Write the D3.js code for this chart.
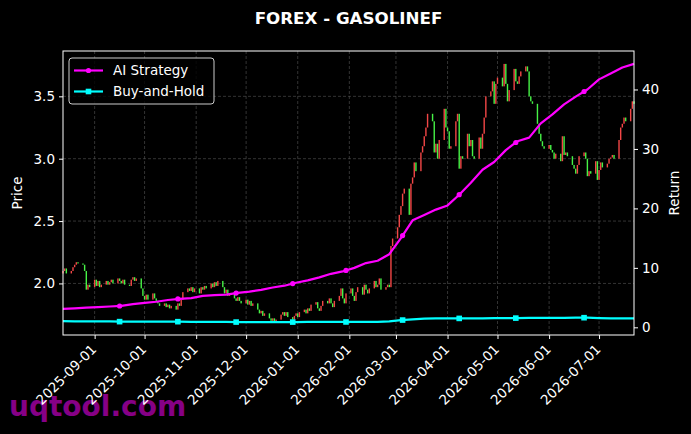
<!DOCTYPE html>
<html>
<head>
<meta charset="utf-8">
<script src="https://cdn.jsdelivr.net/npm/d3@7"></script>
<style>
  body { margin: 0; background: #000; }
  svg { display: block; }
  text { font-family: "DejaVu Sans", sans-serif; }
</style>
</head>
<body>
<svg id="chart"></svg>
<script>
// ---- data ----
const title = "FOREX - GASOLINEF";
const firstDay = "2025-08-13";
const lastDay = "2026-07-22";
const firstOpen = 2.08;

// daily closes (weekdays), one row per week starting on a Wednesday
const closes = [
  2.10, 2.12, 2.08, 2.10, 2.13,
  2.15, 2.17, 2.16, 2.15, 2.10,
  1.95, 1.99, 1.97, 2.03, 1.98,
  2.02, 1.97, 1.99, 2.02, 1.99,
  2.01, 2.03, 2.00, 2.04, 2.02,
  2.00, 2.03, 1.99, 1.98, 2.03,
  2.05, 2.02, 2.04, 1.96, 1.90,
  1.87, 1.91, 1.87, 1.92, 1.88,
  1.86, 1.84, 1.82, 1.84, 1.81,
  1.83, 1.80, 1.82, 1.79, 1.84,
  1.82, 1.87, 1.93, 1.96, 1.94,
  1.97, 1.93, 1.96, 1.92, 1.97,
  1.95, 1.98, 1.96, 2.00, 1.97,
  2.01, 1.98, 2.02, 1.97, 1.92,
  1.95, 1.90, 1.92, 1.88, 1.86,
  1.89, 1.86, 1.84, 1.87, 1.83,
  1.86, 1.82, 1.84, 1.79, 1.76,
  1.78, 1.74, 1.76, 1.72, 1.70,
  1.72, 1.69, 1.71, 1.75, 1.77,
  1.74, 1.77, 1.73, 1.71, 1.74,
  1.76, 1.73, 1.77, 1.79, 1.76,
  1.80, 1.78, 1.83, 1.85, 1.80,
  1.78, 1.82, 1.86, 1.84, 1.88,
  1.84, 1.81, 1.86, 1.90, 1.96,
  1.88, 1.84, 1.92, 1.96, 1.90,
  1.86, 1.93, 1.97, 1.91, 1.99,
  1.95, 1.92, 1.96, 2.02, 1.97,
  1.99, 2.04, 1.95, 1.97, 1.99,
  1.97, 2.30, 2.36, 2.45, 2.55,
  2.62, 2.72, 2.76, 2.55, 2.80,
  2.85, 2.97, 2.90, 3.05, 3.10,
  3.18, 3.25, 3.36, 3.30, 3.05,
  3.12, 3.00, 3.15, 3.40, 3.25,
  3.22, 3.08, 3.10, 3.30, 3.36,
  2.92, 3.02, 3.00, 3.20, 3.10,
  3.15, 3.02, 3.00, 3.17, 3.08,
  3.20, 3.33, 3.50, 3.54, 3.62,
  3.44, 3.60, 3.65, 3.58, 3.76,
  3.60, 3.46, 3.55, 3.72, 3.62,
  3.60, 3.66, 3.70, 3.74, 3.70,
  3.50, 3.46, 3.44, 3.28, 3.20,
  3.14, 3.10, 3.08, 3.11, 3.07,
  3.05, 3.00, 3.04, 2.98, 3.18,
  3.03, 3.05, 3.02, 2.95, 2.92,
  2.88, 2.95, 3.02, 3.05, 3.00,
  2.86, 2.90, 2.88, 2.98, 2.83,
  2.91, 2.97, 2.93, 2.96, 3.00,
  3.01, 3.03, 3.00, 3.15, 3.25,
  3.28, 3.33, 3.30, 3.40, 3.46,
  3.44
];

// returns, one value per week (every Wednesday from firstDay)
const aiStrategy = [
  3.1, 3.2, 3.3, 3.4, 3.5, 3.6, 3.9, 4.1, 4.3, 4.6,
  4.8, 4.9, 5.3, 5.4, 5.5, 5.8, 6.0, 6.3, 6.7, 7.0,
  7.5, 7.9, 8.4, 9.0, 9.4, 10.0, 10.8, 11.2, 12.3, 15.0,
  18.0, 18.9, 19.8, 20.5, 22.3, 24.3, 26.5, 27.8, 29.8, 31.3,
  31.9, 34.3, 35.8, 37.5, 38.8, 40.0, 41.7, 42.7, 43.7, 44.3
];
const buyAndHold = [
  1.05, 1.0, 1.0, 1.0, 1.0, 0.95, 0.95, 0.95, 0.95, 0.95,
  0.95, 0.9, 0.9, 0.9, 0.9, 0.88, 0.88, 0.88, 0.88, 0.88,
  0.88, 0.9, 0.9, 0.9, 0.9, 0.9, 0.9, 0.92, 1.0, 1.2,
  1.35, 1.45, 1.5, 1.5, 1.5, 1.5, 1.52, 1.55, 1.55, 1.55,
  1.58, 1.58, 1.6, 1.6, 1.62, 1.62, 1.55, 1.5, 1.5, 1.5
];
const markerDates = ["2025-09-16", "2025-10-21", "2025-11-25", "2025-12-29", "2026-01-30",
                     "2026-03-05", "2026-04-08", "2026-05-12", "2026-06-22"];

const xTickLabels = ["2025-09-01", "2025-10-01", "2025-11-01", "2025-12-01", "2026-01-01", "2026-02-01",
                     "2026-03-01", "2026-04-01", "2026-05-01", "2026-06-01", "2026-07-01"];
const priceTicks = [2.0, 2.5, 3.0, 3.5];
const returnTicks = [0, 10, 20, 30, 40];

const seriesNames = ["AI Strategy", "Buy-and-Hold"];
const seriesColors = ["#ff00ff", "#00ffff"];

// ---- setup ----
const W = 691, H = 434;
const margin = { top: 51, right: 57, bottom: 99, left: 63 };
const width = W - margin.left - margin.right;
const height = H - margin.top - margin.bottom;
const parse = d3.timeParse("%Y-%m-%d");

// trading days (weekdays) between first and last day
let days = d3.timeDay.range(parse(firstDay), d3.timeDay.offset(parse(lastDay), 1))
  .filter(d => d.getDay() !== 0 && d.getDay() !== 6);
days = days.slice(0, closes.length);

const candles = days.map((d, i) => ({
  date: d,
  open: i === 0 ? firstOpen : closes[i - 1],
  close: closes[i]
}));

const weeks = aiStrategy.map((v, i) => d3.timeDay.offset(parse(firstDay), 7 * i));

const svg = d3.select("#chart").attr("width", W).attr("height", H).style("background", "#000");

// watermark sits under everything else
svg.append("text")
  .attr("x", 9).attr("y", 416)
  .attr("fill", "#860086")
  .style("font-size", "28px").style("font-weight", "bold")
  .text("uqtool.com");

const chart = svg.append("g").attr("transform", `translate(${margin.left},${margin.top})`);

const x = d3.scaleTime().domain([parse(firstDay), parse(lastDay)]).range([0, width]);

const pExt = d3.extent(candles.flatMap(d => [d.open, d.close]));
const pPad = (pExt[1] - pExt[0]) * 0.05;
const yPrice = d3.scaleLinear().domain([pExt[0] - pPad, pExt[1] + pPad]).range([height, 0]);

const rExt = d3.extent(aiStrategy.concat(buyAndHold));
const rPad = (rExt[1] - rExt[0]) * 0.05;
const yRet = d3.scaleLinear().domain([rExt[0] - rPad, rExt[1] + rPad]).range([height, 0]);

const xTicks = xTickLabels.map(parse);

// grid
chart.append("g").selectAll("line").data(xTicks).join("line")
  .attr("x1", d => x(d)).attr("x2", d => x(d))
  .attr("y1", 0).attr("y2", height)
  .attr("stroke", "#555").attr("stroke-width", 0.6).attr("stroke-dasharray", "3,2");
chart.append("g").selectAll("line").data(priceTicks).join("line")
  .attr("x1", 0).attr("x2", width)
  .attr("y1", d => yPrice(d)).attr("y2", d => yPrice(d))
  .attr("stroke", "#555").attr("stroke-width", 0.6).attr("stroke-dasharray", "3,2");

// candles
chart.append("g").selectAll("rect").data(candles).join("rect")
  .attr("x", d => x(d.date) - 0.7)
  .attr("width", 1.4)
  .attr("y", d => yPrice(Math.max(d.open, d.close)))
  .attr("height", d => Math.max(1, Math.abs(yPrice(d.open) - yPrice(d.close))))
  .attr("fill", d => d.close >= d.open ? "#f24646" : "#46f246");

// return lines
const seriesData = [aiStrategy, buyAndHold];
const line = d3.line().x(d => x(d[0])).y(d => yRet(d[1]));
seriesData.forEach((vals, i) => {
  const pts = weeks.map((d, j) => [d, vals[j]]);
  chart.append("path")
    .datum(pts)
    .attr("d", line)
    .attr("fill", "none")
    .attr("stroke", seriesColors[i])
    .attr("stroke-width", 2.2)
    .attr("stroke-linejoin", "round");
  const interp = d3.scaleTime().domain(weeks).range(vals);
  const mk = chart.append("g");
  markerDates.map(parse).forEach(d => {
    const cx = x(d), cy = yRet(interp(d));
    if (i === 0) {
      mk.append("circle").attr("cx", cx).attr("cy", cy).attr("r", 2.6).attr("fill", seriesColors[i]);
    } else {
      mk.append("rect").attr("x", cx - 2.8).attr("y", cy - 2.8).attr("width", 5.6).attr("height", 5.6)
        .attr("fill", seriesColors[i]);
    }
  });
});

// frame
chart.append("rect").attr("width", width).attr("height", height)
  .attr("fill", "none").attr("stroke", "#fff").attr("stroke-width", 1);

// axes
const styleAxis = g => {
  g.select(".domain").remove();
  g.selectAll(".tick line").attr("stroke", "#fff");
  g.selectAll(".tick text").attr("fill", "#fff").style("font-size", "13.5px")
    .style("font-family", "'DejaVu Sans', sans-serif");
};

chart.append("g")
  .attr("transform", `translate(0,${height})`)
  .call(d3.axisBottom(x).tickValues(xTicks).tickFormat(d3.timeFormat("%Y-%m-%d")).tickSizeOuter(0).tickSize(4))
  .call(styleAxis)
  .call(g => g.selectAll(".tick text")
    .attr("x", 0).attr("y", 0)
    .attr("dy", "0.75em")
    .attr("text-anchor", "end")
    .attr("transform", "translate(-5,8) rotate(-45)"));

chart.append("g")
  .call(d3.axisLeft(yPrice).tickValues(priceTicks).tickFormat(d3.format(".1f")).tickSizeOuter(0).tickSize(4).tickPadding(4))
  .call(styleAxis);

chart.append("g")
  .attr("transform", `translate(${width},0)`)
  .call(d3.axisRight(yRet).tickValues(returnTicks).tickFormat(d3.format("d")).tickSizeOuter(0).tickSize(4).tickPadding(4))
  .call(styleAxis);

// axis labels
svg.append("text")
  .attr("transform", `translate(22,${margin.top + height / 2}) rotate(-90)`)
  .attr("text-anchor", "middle").attr("fill", "#fff").style("font-size", "13.5px")
  .text("Price");
svg.append("text")
  .attr("transform", `translate(679,${margin.top + height / 2}) rotate(-90)`)
  .attr("text-anchor", "middle").attr("fill", "#fff").style("font-size", "13.5px")
  .text("Return");

// title
svg.append("text")
  .attr("x", margin.left + width / 2).attr("y", 24)
  .attr("text-anchor", "middle").attr("fill", "#fff")
  .style("font-size", "16.7px").style("font-weight", "bold")
  .text(title);

// legend
const legend = chart.append("g").attr("transform", "translate(6,7)");
legend.append("rect")
  .attr("width", 145).attr("height", 46).attr("rx", 3)
  .attr("fill", "#000").attr("fill-opacity", 0.8)
  .attr("stroke", "#ccc").attr("stroke-width", 1);
seriesNames.forEach((name, i) => {
  const row = legend.append("g").attr("transform", `translate(0,${12.5 + i * 21})`);
  row.append("line").attr("x1", 5).attr("x2", 34).attr("y1", 0).attr("y2", 0)
    .attr("stroke", seriesColors[i]).attr("stroke-width", 2.2);
  if (i === 0) {
    row.append("circle").attr("cx", 19.5).attr("cy", 0).attr("r", 2.6).attr("fill", seriesColors[i]);
  } else {
    row.append("rect").attr("x", 16.7).attr("y", -2.8).attr("width", 5.6).attr("height", 5.6).attr("fill", seriesColors[i]);
  }
  row.append("text").attr("x", 44).attr("y", 0).attr("dy", "0.35em")
    .attr("fill", "#fff").style("font-size", "13.5px").text(name);
});
</script>
</body>
</html>
